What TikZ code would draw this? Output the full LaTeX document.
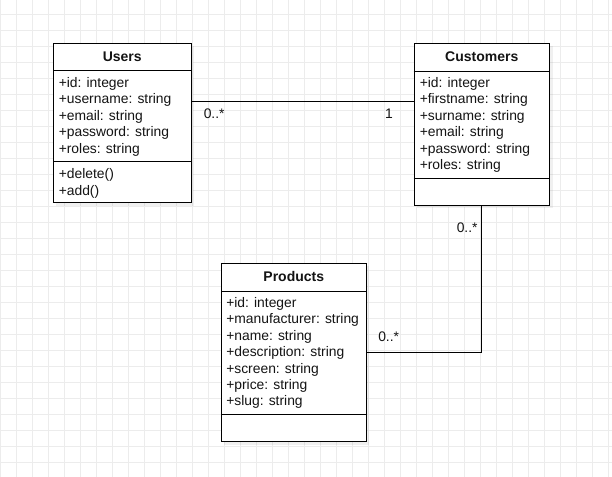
\documentclass[tikz,border=0pt]{standalone}
\usepackage{fontspec}
\setmainfont{Liberation Sans}
\definecolor{gridc}{RGB}{236,236,236}
\definecolor{inkc}{RGB}{20,20,20}
\begin{document}
\begin{tikzpicture}[x=0.75pt,y=-0.75pt,
  classbox/.style={draw=black, line width=0.75pt, fill=white, rectangle, inner sep=0pt, anchor=north west},
  sepline/.style={draw=black, line width=0.75pt},
  attr/.style={anchor=base west, inner sep=0pt, text=inkc, font=\fontsize{10.4}{12}\selectfont},
  ctitle/.style={anchor=base, inner sep=0pt, text=inkc, font=\fontsize{10.5}{12}\selectfont\bfseries},
  mult/.style={inner sep=0pt, text=inkc, font=\fontsize{10.4}{12}\selectfont},
  shadowc/.style={fill=black, opacity=0.06},
  conn/.style={draw=black, line width=0.75pt}]
\useasboundingbox (0,0) rectangle (612,477);
\fill[white] (0,0) rectangle (612,477);
% grid
\foreach \i in {0,...,38} \draw[gridc, line width=0.75pt] (16*\i+0.3,0) -- (16*\i+0.3,477);
\foreach \j in {0,...,28} \draw[gridc, line width=0.75pt] (0,15+16*\j) -- (612,15+16*\j);
% shadows
\fill[shadowc] (56,46.5) rectangle (194,206);
\fill[shadowc] (416.5,46.5) rectangle (552.5,208.5);
\fill[shadowc] (224,266.5) rectangle (369,445);
% boxes
\node[classbox, minimum width=103.125pt, minimum height=119.25pt] (users) at (53,43.5) {};
\node[classbox, minimum width=101.625pt, minimum height=121.125pt] (cust) at (413.5,43.5) {};
\node[classbox, minimum width=108.375pt, minimum height=133.5pt] (prod) at (221,263.5) {};
% separators
\draw[sepline] (users.west |- 0,71) -- (users.east |- 0,71);
\draw[sepline] (users.west |- 0,162) -- (users.east |- 0,162);
\draw[sepline] (cust.west |- 0,71.5) -- (cust.east |- 0,71.5);
\draw[sepline] (cust.west |- 0,179) -- (cust.east |- 0,179);
\draw[sepline] (prod.west |- 0,291.5) -- (prod.east |- 0,291.5);
\draw[sepline] (prod.west |- 0,414.5) -- (prod.east |- 0,414.5);
% titles
\node[ctitle] (usersT) at (users.north |- 0,62) {Users};
\node[ctitle] (custT) at (cust.north |- 0,62) {Customers};
\node[ctitle] (prodT) at (prod.north |- 0,282) {Products};
% Users attributes
\node[attr] (u1) at (58.5,87.7) {+id: integer};
\node[attr] (u2) at (58.5,104.0) {+username: string};
\node[attr] (u3) at (58.5,120.4) {+email: string};
\node[attr] (u4) at (58.5,136.7) {+password: string};
\node[attr] (u5) at (58.5,153.1) {+roles: string};
\node[attr] (u6) at (58.5,179.0) {+delete()};
\node[attr] (u7) at (58.5,195.3) {+add()};
% Customers attributes
\node[attr] (c1) at (419.5,87.7) {+id: integer};
\node[attr] (c2) at (419.5,104.0) {+firstname: string};
\node[attr] (c3) at (419.5,120.4) {+surname: string};
\node[attr] (c4) at (419.5,136.7) {+email: string};
\node[attr] (c5) at (419.5,153.1) {+password: string};
\node[attr] (c6) at (419.5,169.4) {+roles: string};
% Products attributes
\node[attr] (p1) at (226,307.7) {+id: integer};
\node[attr] (p2) at (226,324.0) {+manufacturer: string};
\node[attr] (p3) at (226,340.4) {+name: string};
\node[attr] (p4) at (226,356.7) {+description: string};
\node[attr] (p5) at (226,373.1) {+screen: string};
\node[attr] (p6) at (226,389.4) {+price: string};
\node[attr] (p7) at (226,405.8) {+slug: string};
% connectors
\draw[conn] (users.east |- 0,101.5) -- (cust.west |- 0,101.5);
\draw[conn] (cust.south) |- (prod.east);
% multiplicities
\node[mult, anchor=base west] (m1) at (203.5,119) {0..*};
\node[mult, anchor=base east] (m2) at (393,119) {1};
\node[mult, anchor=base west] (m3) at (456.5,232.3) {0..*};
\node[mult, anchor=base west] (m4) at (378,341.7) {0..*};
\end{tikzpicture}
\end{document}
